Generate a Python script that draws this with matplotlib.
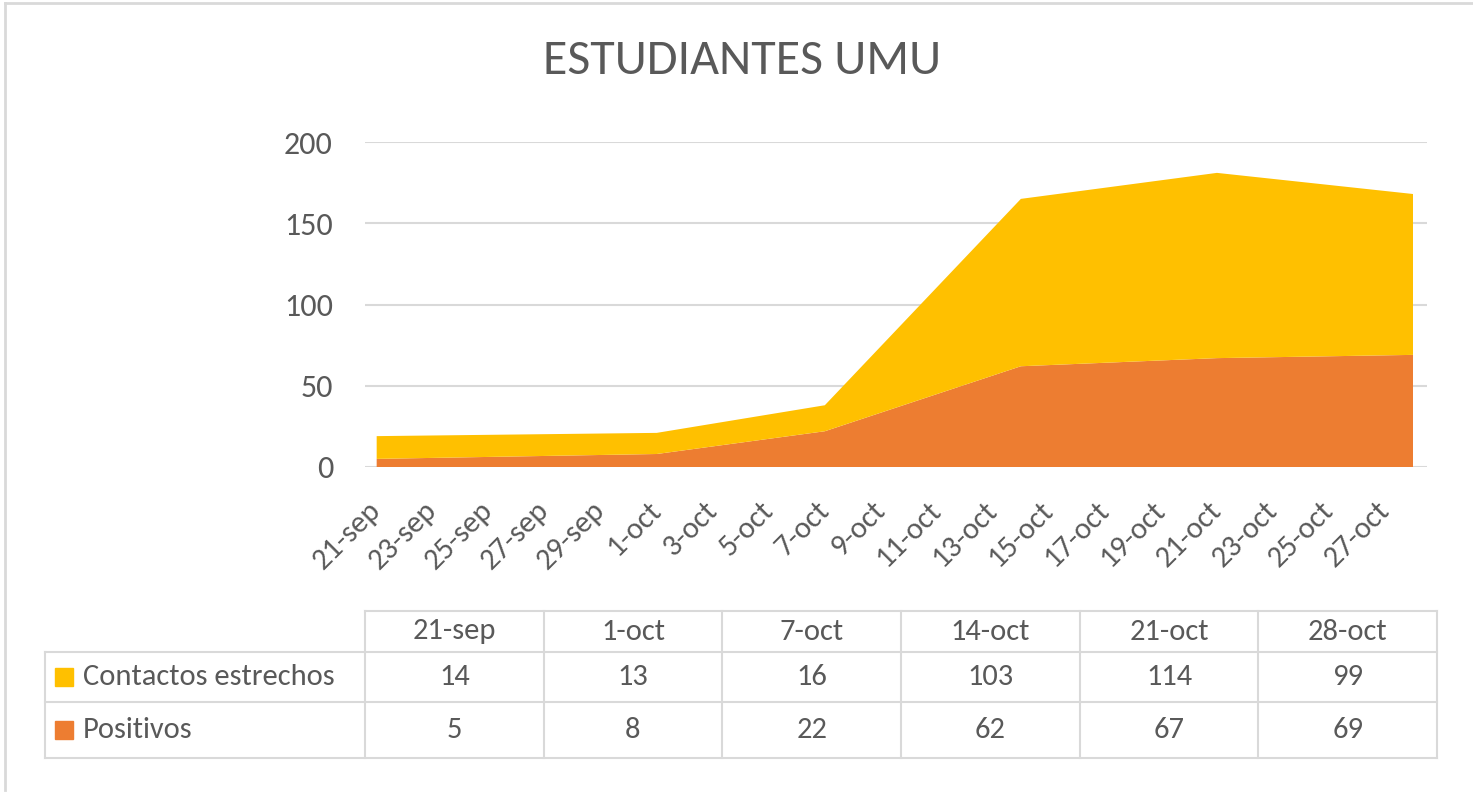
import matplotlib
matplotlib.use("Agg")
import matplotlib.pyplot as plt
from matplotlib import font_manager
from matplotlib.lines import Line2D
from matplotlib.patches import Rectangle
import pandas as pd

# data
fechas = ["2020-09-21", "2020-10-01", "2020-10-07", "2020-10-14", "2020-10-21", "2020-10-28"]
positivos = [5, 8, 22, 62, 67, 69]
contactos = [14, 13, 16, 103, 114, 99]
series_names = ["Contactos estrechos", "Positivos"]
meses = {9: "sep", 10: "oct"}

AMARILLO = "#FFC000"
NARANJA = "#ED7D31"
GRIS_TXT = "#595959"
GRIS_LIN = "#D9D9D9"

available = {f.name for f in font_manager.fontManager.ttflist}
fuente = next(f for f in ["Carlito", "Liberation Sans Narrow", "Lato", "DejaVu Sans"] if f in available)
plt.rcParams["font.family"] = [fuente, "DejaVu Sans"]

dates = pd.to_datetime(fechas)


def etiqueta(d):
    return f"{d.day}-{meses[d.month]}"


W, H = 1473, 795
fig = plt.figure(figsize=(W / 100, H / 100), dpi=100)

# main chart area
ax = fig.add_axes([365 / W, 1 - 467 / H, (1427 - 365) / W, (467 - 142) / H])
ax.stackplot(dates, positivos, contactos, colors=[NARANJA, AMARILLO], linewidth=0)
ax.set_ylim(0, 200)
ax.set_yticks(range(0, 201, 50))
ax.set_xlim(dates[0] - pd.Timedelta(hours=10), dates[-1] + pd.Timedelta(hours=12))
ticks = pd.date_range(dates[0], dates[-1], freq="2D")
ax.set_xticks(ticks)
ax.set_xticklabels([etiqueta(t) for t in ticks], rotation=45, ha="right", va="center",
                   rotation_mode="anchor")
ax.tick_params(axis="both", length=0, colors=GRIS_TXT)
ax.tick_params(axis="y", pad=23, labelsize=23)
ax.tick_params(axis="x", pad=28, labelsize=22)
ax.grid(axis="y", color=GRIS_LIN, linewidth=1.5)
ax.set_axisbelow(True)
for s in ax.spines.values():
    s.set_visible(False)

fig.text(742 / W, 1 - 61 / H, "ESTUDIANTES UMU", ha="center", va="center",
         fontsize=36, color=GRIS_TXT)

# data table below the chart
tab = fig.add_axes([45 / W, 1 - 758 / H, (1437 - 45) / W, (758 - 611) / H])
left_w = 320 / 178.7
ncol = len(fechas)
tab.set_xlim(-left_w, ncol)
row_y = [0, 41, 91, 147]
tab.set_ylim(row_y[-1], 0)
tab.axis("off")
lw = 1.5
# horizontal lines
tab.plot([0, ncol], [row_y[0], row_y[0]], color=GRIS_LIN, lw=lw, clip_on=False)
for y in row_y[1:]:
    tab.plot([-left_w, ncol], [y, y], color=GRIS_LIN, lw=lw, clip_on=False)
# vertical lines
tab.plot([-left_w, -left_w], [row_y[1], row_y[-1]], color=GRIS_LIN, lw=lw, clip_on=False)
for c in range(ncol + 1):
    tab.plot([c, c], [row_y[0], row_y[-1]], color=GRIS_LIN, lw=lw, clip_on=False)

fs = 22
for i, d in enumerate(dates):
    tab.text(i + 0.5, (row_y[0] + row_y[1]) / 2, etiqueta(d), ha="center", va="center",
             fontsize=fs, color=GRIS_TXT)
rows = [(series_names[0], contactos, AMARILLO), (series_names[1], positivos, NARANJA)]
for r, (name, vals, col) in enumerate(rows):
    yc = (row_y[r + 1] + row_y[r + 2]) / 2
    tab.add_patch(Rectangle((-left_w + 0.055, yc - 9), 0.1, 18, color=col, clip_on=False))
    tab.text(-left_w + 0.21, yc, name, ha="left", va="center", fontsize=fs, color=GRIS_TXT)
    for i, v in enumerate(vals):
        tab.text(i + 0.5, yc, str(v), ha="center", va="center", fontsize=fs, color=GRIS_TXT)

# outer frame of the chart object (left and top edges visible)
fig.add_artist(Line2D([5 / W, 5 / W], [1 - 790 / H, 1 - 3 / H], color=GRIS_LIN, lw=2))
fig.add_artist(Line2D([5 / W, 1], [1 - 3 / H, 1 - 3 / H], color=GRIS_LIN, lw=2))

fig.savefig("out.png", dpi=100, facecolor="white")
